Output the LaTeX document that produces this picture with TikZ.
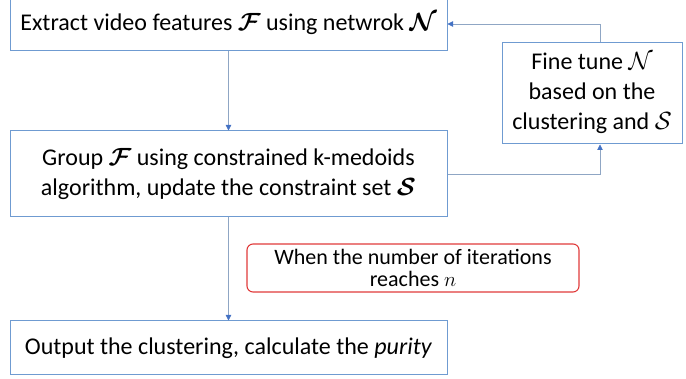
\documentclass[tikz,border=0pt]{standalone}
\usepackage{fontspec}
\setmainfont{Carlito}
\usepackage{amsmath}
\usepackage{bm}
\usetikzlibrary{arrows.meta}
\definecolor{boxblue}{HTML}{6F9BD1}
\definecolor{linegray}{HTML}{8FA6C4}
\definecolor{tipblue}{HTML}{4472C4}
\definecolor{alertred}{HTML}{E03A3A}
\tikzset{
  stepbox/.style={draw=boxblue, line width=1pt, inner sep=0pt, align=center,
    font=\fontsize{24}{30}\selectfont},
  notebox/.style={draw=alertred, line width=1.1pt, rounded corners=6pt, inner sep=0pt,
    align=center, font=\fontsize{22}{22}\selectfont},
  flow/.style={draw=linegray, line width=0.8pt,
    -{Triangle[length=5.5pt,width=5.5pt,fill=tipblue,color=tipblue]}}
}
\begin{document}
\begin{tikzpicture}[x=1pt,y=-1pt]
\useasboundingbox (0,0) rectangle (686,379);
% process steps
\node[stepbox, minimum width=437pt, minimum height=54pt] (extract) at (228.5,24)
  {Extract video features $\bm{\mathcal{F}}$ using netwrok $\bm{\mathcal{N}}$};
\node[stepbox, minimum width=437pt, minimum height=86pt] (group) at (228.5,174)
  {Group $\bm{\mathcal{F}}$ using constrained k-medoids\\algorithm, update the constraint set $\bm{\mathcal{S}}$};
\node[stepbox, minimum width=437pt, minimum height=54pt] (output) at (228.5,348)
  {Output the clustering, calculate the \textit{purity}};
\node[stepbox, minimum width=180pt, minimum height=101pt] (tune) at (592,93.5)
  {Fine tune $\mathcal{N}$\\based on the\\clustering and $\mathcal{S}$};
% stopping condition
\node[notebox, minimum width=332pt, minimum height=48pt] (stop) at (413,268)
  {When the number of iterations\\reaches $n$};
% connectors
\draw[flow] (extract) -- (group);
\draw[flow] (group) -- (output);
\draw[flow] (group.east) -| ([xshift=8pt]tune.south);
\draw[flow] ([xshift=8pt]tune.north) |- (extract.east);
\end{tikzpicture}
\end{document}
